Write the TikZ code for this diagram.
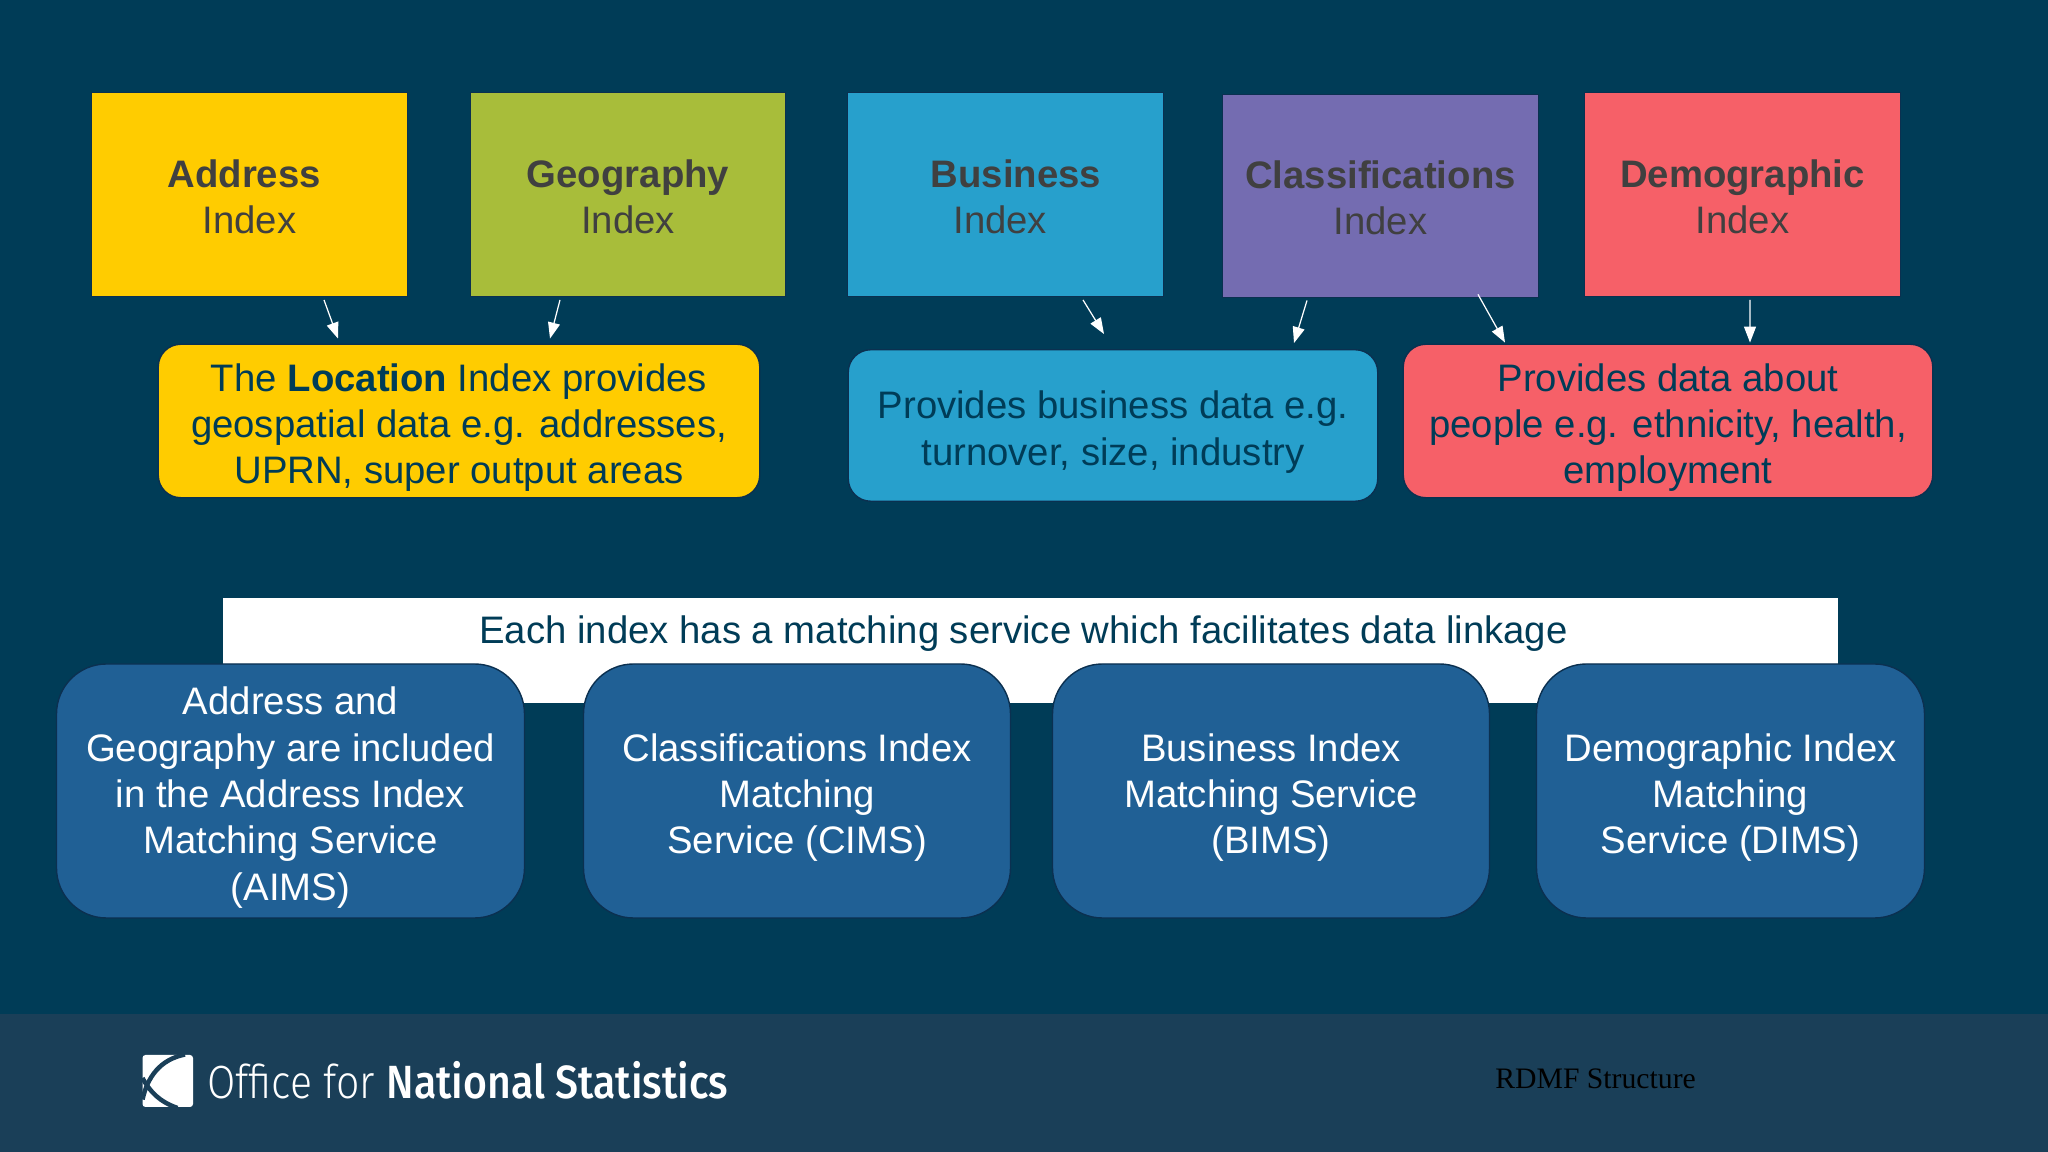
\documentclass[tikz,border=0pt]{standalone}
\usepackage{fontspec}
\setmainfont{Liberation Sans}
\newfontfamily\serifname{Liberation Serif}
\newfontfamily\logolight{Fira Sans Light}
\newfontfamily\logomedium{Fira Sans Medium}
\usetikzlibrary{arrows.meta,positioning}
\definecolor{onsdark}{HTML}{003C57}
\definecolor{onsfoot}{HTML}{1A3F58}
\definecolor{onsblue}{HTML}{206095}
\definecolor{onssky}{HTML}{27A0CC}
\definecolor{onsgreen}{HTML}{A8BD3A}
\definecolor{onspurple}{HTML}{746CB1}
\definecolor{onscoral}{HTML}{F66068}
\definecolor{onsyellow}{HTML}{FFCC00}
\definecolor{onsgrey}{HTML}{404040}
\definecolor{onsline}{HTML}{0B3050}
\newcommand{\indextop}{\rule{0pt}{0.64cm}}
\newcommand{\bodytop}{\rule{0pt}{0.82cm}}
\tikzset{
    bodyfont/.style={font=\fontsize{21.8}{26.4}\selectfont},
    indexbox/.style={draw=onsline, line width=0.8pt, bodyfont, align=center, text=onsgrey, minimum width=6.31cm, minimum height=4.07cm},
    infobox/.style={draw=onsline, line width=0.8pt, bodyfont, align=center, text=onsdark, rounded corners=0.45cm, minimum height=3.03cm},
    servicebox/.style={draw=onsline, line width=0.8pt, fill=onsblue, bodyfont, align=center, text=white, rounded corners=1cm, minimum height=5.08cm},
    linkarrow/.style={draw=white, line width=0.7pt, -{Triangle[length=0.32cm,width=0.24cm]}}
}
\begin{document}
\begin{tikzpicture}
    \useasboundingbox (0,0) rectangle (40.96,23.04);
    \fill[onsdark] (0,0) rectangle (40.96,23.04);
    \fill[onsfoot] (0,0) rectangle (40.96,2.76);

    % index boxes
    \node[indexbox, fill=onsyellow] (address) at (4.99,19.15) {\indextop\textbf{Address}\hspace*{0.21cm}\\Index};
    \node[indexbox, fill=onsgreen] (geography) at (12.56,19.15) {\indextop\textbf{Geography}\\Index};
    \node[indexbox, fill=onssky] (business) at (20.11,19.15) {\indextop\hspace*{0.42cm}\textbf{Business}\\Index\hspace*{0.21cm}};
    \node[indexbox, fill=onspurple] (classifications) at (27.61,19.12) {\indextop\textbf{Classifications}\\Index};
    \node[indexbox, fill=onscoral] (demographic) at (34.85,19.15) {\indextop\textbf{Demographic}\\Index};

    % what each index provides
    \node[infobox, fill=onsyellow, minimum width=12.03cm] (location) at (9.18,14.62) {\bodytop The \textbf{Location} Index provides\\geospatial data e.g. addresses,\\UPRN, super output areas};
    \node[infobox, fill=onssky, minimum width=10.59cm] (businessdata) at (22.26,14.53) {\bodytop Provides business data e.g.\\turnover, size, industry};
    \node[infobox, fill=onscoral, minimum width=10.59cm] (peopledata) at (33.36,14.62) {\bodytop Provides data about\\people e.g. ethnicity, health,\\employment};

    \draw[linkarrow] ([xshift=1.49cm,yshift=-0.06cm]address.south) -- ([xshift=-2.42cm,yshift=0.1cm]location.north);
    \draw[linkarrow] ([xshift=-1.36cm,yshift=-0.06cm]geography.south) -- ([xshift=1.82cm,yshift=0.1cm]location.north);
    \draw[linkarrow] ([xshift=1.55cm,yshift=-0.06cm]business.south) -- ([xshift=-0.18cm,yshift=0.3cm]businessdata.north);
    \draw[linkarrow] ([xshift=-1.47cm,yshift=-0.04cm]classifications.south) -- ([xshift=3.62cm,yshift=0.12cm]businessdata.north);
    \draw[linkarrow] ([xshift=1.95cm,yshift=0.08cm]classifications.south) -- ([xshift=-3.26cm,yshift=0.02cm]peopledata.north);
    \draw[linkarrow] ([xshift=0.15cm,yshift=-0.06cm]demographic.south) -- ([xshift=1.64cm,yshift=0.02cm]peopledata.north);

    % matching services
    \node[fill=white, minimum width=32.3cm, minimum height=2.1cm] (banner) at (20.61,10.03) {};
    \node[bodyfont, text=onsdark, below=0.23cm of banner.north, xshift=-0.14cm] (bannertext) {Each index has a matching service which facilitates data linkage};

    \node[servicebox, minimum width=9.36cm] (aims) at (5.81,7.22) {\bodytop Address and\\Geography are included\\in the Address Index\\Matching Service\\(AIMS)};
    \node[servicebox, minimum width=8.54cm] (cims) at (15.94,7.22) {\bodytop Classifications Index\\Matching\\Service (CIMS)};
    \node[servicebox, minimum width=8.74cm] (bims) at (25.42,7.22) {\bodytop Business Index\\Matching Service\\(BIMS)};
    \node[servicebox, minimum width=7.76cm] (dims) at (34.61,7.22) {\bodytop Demographic Index\\Matching\\Service (DIMS)};

    % footer
    \fill[white, rounded corners=0.06cm] (2.85,0.90) rectangle (3.86,1.94);
    \draw[onsfoot, line width=0.09cm] (3.70,1.95) .. controls (3.2,1.85) and (2.95,1.5) .. (2.85,1.05);
    \draw[onsfoot, line width=0.09cm] (2.85,1.48) .. controls (3.0,1.2) and (3.2,1.0) .. (3.55,0.88);
    \node[text=white, font=\fontsize{26.5}{26.5}\selectfont, anchor=base west, xscale=0.88, inner sep=0pt] (onsname) at (4.14,1.06) {\logolight Office for \logomedium National Statistics};
    \node[font=\fontsize{16.9}{20}\serifname, text=black, anchor=base west, inner sep=0pt] (footertitle) at (29.9,1.26) {RDMF Structure};
\end{tikzpicture}
\end{document}
